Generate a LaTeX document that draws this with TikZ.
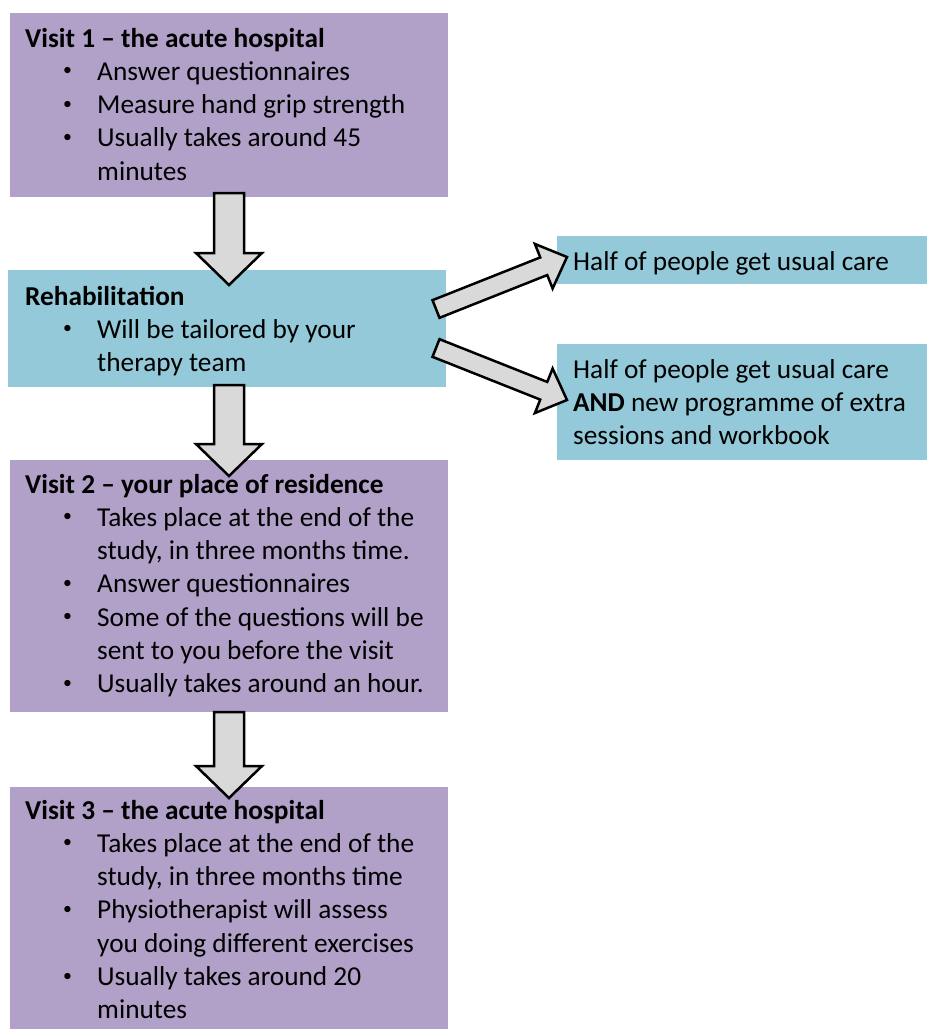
\documentclass[tikz,border=0pt]{standalone}
\usepackage{fontspec}
\usepackage{graphicx}
\setmainfont{Carlito}
\usetikzlibrary{calc}

\definecolor{visitpurple}{HTML}{B1A0C7}
\definecolor{rehabblue}{HTML}{93C9D8}
\definecolor{arrowgrey}{HTML}{D9D9D9}

% bullet item and continuation line
\newcommand{\itm}{\hspace*{38pt}\makebox[34pt][l]{\raisebox{4.5pt}{\scalebox{0.65}{\textbullet}}}}
\newcommand{\cnt}{\hspace*{72pt}}
% block arrow: from, to, shaft half width, head half width, head length
\newcommand{\blockarrow}[5]{%
  \draw[blockarrow] let \p1=($(#2)-(#1)$), \n1={atan2(\y1,\x1)}, \n2={veclen(\x1,\y1)} in
    [shift={(#1)}, rotate=\n1]
    (0,-#3) -- (\n2-#5,-#3) -- (\n2-#5,-#4) -- (\n2,0) -- (\n2-#5,#4) -- (\n2-#5,#3) -- (0,#3) -- cycle;}

\begin{document}
\begin{tikzpicture}[x=1pt, y=-1pt,
    panel/.style={anchor=north west, inner sep=0pt, outer sep=0pt},
    visitbox/.style={panel, fill=visitpurple},
    bluebox/.style={panel, fill=rehabblue},
    txt/.style={anchor=base west, inner sep=0pt, text width=420pt, align=left,
                font=\fontsize{27.3}{33.3}\selectfont,
                execute at begin node={\spaceskip=0pt\xspaceskip=0pt\relax}},
    blockarrow/.style={draw=black, fill=arrowgrey, line width=2.5pt, line join=miter}]
    \useasboundingbox (0,0) rectangle (927,1029);
    \clip (0,0) rectangle (927,1029);
    % boxes
    \node[visitbox, minimum width=438pt, minimum height=184pt] (visit1) at (10,13) {};
    \node[bluebox, minimum width=438pt, minimum height=117pt] (rehab) at (8,270) {};
    \node[visitbox, minimum width=438pt, minimum height=252pt] (visit2) at (10,460) {};
    \node[visitbox, minimum width=438pt, minimum height=260pt] (visit3) at (10,787) {};
    \node[bluebox, minimum width=380pt, minimum height=48pt] (care1) at (557,236) {};
    \node[bluebox, minimum width=380pt, minimum height=116pt] (care2) at (557,344) {};
    % arrows
    \coordinate (a1s) at ($(visit1.south)+(0,-4)$);
    \coordinate (a1e) at ($(a1s |- rehab.north)+(0,15)$);
    \coordinate (a2s) at ($(a1s |- rehab.south)+(0,-2)$);
    \coordinate (a2e) at ($(a1s |- visit2.north)+(0,16)$);
    \coordinate (a3s) at (visit2.south);
    \coordinate (a3e) at ($(visit3.north)+(0,11)$);
    \coordinate (b1s) at ($(rehab.east)+(-10,-19.5)$);
    \coordinate (b1e) at ($(care1.west)+(10,-3)$);
    \coordinate (b2s) at ($(rehab.east)+(-10,19.5)$);
    \coordinate (b2e) at ($(care2.west)+(10,-2)$);
    \blockarrow{a1s}{a1e}{15}{33}{32}
    \blockarrow{a2s}{a2e}{15}{33}{32}
    \blockarrow{a3s}{a3e}{15}{33}{32}
    \blockarrow{b1s}{b1e}{9.5}{24}{25}
    \blockarrow{b2s}{b2e}{9.5}{24}{25}
    % text
    \node[txt, xshift=15pt, yshift=-34pt] (visit1txt) at (visit1.north west) {%
      \textbf{Visit 1 -- the acute hospital}\\
      \itm Answer questionnaires\\
      \itm Measure hand grip strength\\
      \itm Usually takes around 45\\
      \cnt minutes};
    \node[txt, xshift=17pt, yshift=-35pt] (rehabtxt) at (rehab.north west) {%
      \textbf{Rehabilitation}\\
      \itm Will be tailored by your\\
      \cnt therapy team};
    \node[txt, xshift=15pt, yshift=-33pt] (visit2txt) at (visit2.north west) {%
      \textbf{Visit 2 -- your place of residence}\\
      \itm Takes place at the end of the\\
      \cnt study, in three months time.\\
      \itm Answer questionnaires\\
      \itm Some of the questions will be\\
      \cnt sent to you before the visit\\
      \itm Usually takes around an hour.};
    \node[txt, xshift=15pt, yshift=-32pt] (visit3txt) at (visit3.north west) {%
      \textbf{Visit 3 -- the acute hospital}\\
      \itm Takes place at the end of the\\
      \cnt study, in three months time\\
      \itm Physiotherapist will assess\\
      \cnt you doing different exercises\\
      \itm Usually takes around 20\\
      \cnt minutes};
    \node[txt, xshift=16pt, yshift=-34pt] (care1txt) at (care1.north west) {%
      Half of people get usual care};
    \node[txt, xshift=16pt, yshift=-34pt] (care2txt) at (care2.north west) {%
      Half of people get usual care\\
      \textbf{AND} new programme of extra\\
      sessions and workbook};
\end{tikzpicture}
\end{document}
